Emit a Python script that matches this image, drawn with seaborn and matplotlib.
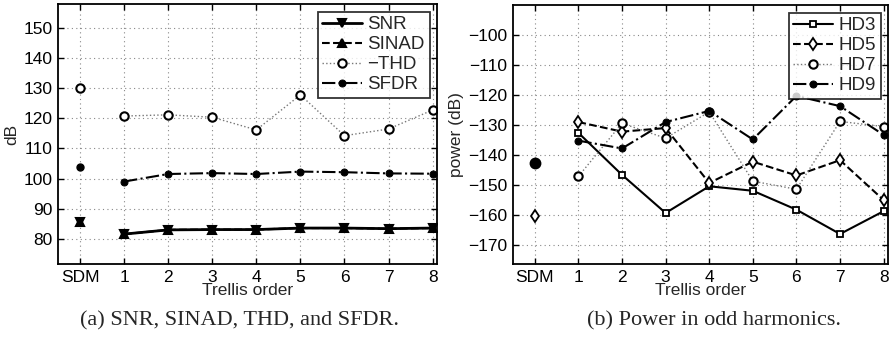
import numpy as np
import pandas as pd
import matplotlib
matplotlib.use("Agg")
import matplotlib.pyplot as plt
import seaborn as sns

# x positions: 0 = SDM, 1..8 = trellis order
x_labels = ["SDM", "1", "2", "3", "4", "5", "6", "7", "8"]
orders = [1, 2, 3, 4, 5, 6, 7, 8]

# (a) values in dB
snr_sdm, sinad_sdm, thd_sdm, sfdr_sdm = 85.7, 85.7, 130.0, 103.7
snr = [81.6, 83.0, 83.1, 83.1, 83.6, 83.6, 83.4, 83.6]
sinad = [81.6, 83.0, 83.1, 83.1, 83.6, 83.6, 83.4, 83.6]
thd = [120.7, 121.1, 120.3, 116.1, 127.7, 114.2, 116.4, 122.7]
sfdr = [99.0, 101.5, 101.8, 101.5, 102.3, 102.1, 101.7, 101.6]

# (b) power in odd harmonics, dB
hd5_sdm, hd7_sdm, hd9_sdm = -160.2, -142.5, -142.5
hd3 = [-132.6, -146.6, -159.3, -150.4, -151.9, -158.2, -166.3, -158.7]
hd5 = [-129.0, -132.2, -131.0, -149.3, -142.2, -146.8, -141.7, -155.0]
hd7 = [-147.1, -129.4, -134.4, -125.6, -148.7, -151.4, -128.8, -130.5]
hd9 = [-135.2, -137.8, -129.0, -125.3, -134.8, -120.3, -123.7, -133.3]

sns.set_theme(style="white")
plt.rcParams['font.family'] = ['Liberation Sans', 'DejaVu Sans']
plt.rcParams['axes.unicode_minus'] = True

fig = plt.figure(figsize=(8.91, 3.40), dpi=100)
W, H = 891.0, 340.0
ax1 = fig.add_axes([58 / W, (H - 264) / H, (437 - 58) / W, 260 / H])
ax2 = fig.add_axes([513 / W, (H - 264) / H, (888 - 513) / W, 259 / H])

mk = dict(color="black", markeredgecolor="black", markeredgewidth=1.5, markersize=6)
FS = 12.5


def style_axes(ax, yticks, ylim, ylabel):
    ax.set_xlim(-0.5, 8.1)
    ax.set_ylim(*ylim)
    ax.set_xticks(range(9))
    ax.set_xticklabels(x_labels)
    ax.set_yticks(yticks)
    ax.grid(True, color="#888888", linestyle=(0, (1, 3)), linewidth=0.8)
    ax.tick_params(direction="in", length=4, width=1, labelsize=FS, colors="black",
                   top=True, right=True, bottom=True, left=True, pad=4)
    for s in ax.spines.values():
        s.set_color("black")
        s.set_linewidth(1.3)
    ax.set_xlabel("Trellis order", fontsize=FS, labelpad=-1)
    ax.set_ylabel(ylabel, fontsize=FS, labelpad=3)


#####################################
# panel (a)
#####################################
sns.lineplot(x=orders, y=snr, ax=ax1, linestyle="-", linewidth=2, marker="v", label="SNR", **mk)
sns.lineplot(x=orders, y=sinad, ax=ax1, linestyle="--", linewidth=1.5, marker="^", label="SINAD", **mk)
sns.lineplot(x=orders, y=thd, ax=ax1, linestyle=":", linewidth=1, marker="o", markerfacecolor="white",
             label="\u2212THD", color="#777777", markeredgecolor="black", markeredgewidth=1.5, markersize=6)
sns.lineplot(x=orders, y=sfdr, ax=ax1, linestyle="-.", linewidth=1.5, marker="o", label="SFDR",
             color="black", markeredgecolor="black", markersize=5)
ax1.plot([0], [snr_sdm], marker="v", linestyle="none", **mk)
ax1.plot([0], [sinad_sdm], marker="^", linestyle="none", **mk)
ax1.plot([0], [thd_sdm], marker="o", linestyle="none", markerfacecolor="white",
         markeredgecolor="black", markeredgewidth=1.5, markersize=6)
ax1.plot([0], [sfdr_sdm], marker="o", linestyle="none", color="black", markersize=5)
style_axes(ax1, range(80, 151, 10), (71.7, 157.8), "dB")

#####################################
# panel (b)
#####################################
sns.lineplot(x=orders, y=hd3, ax=ax2, linestyle="-", linewidth=1.5, marker="s", markerfacecolor="white",
             label="HD3", color="black", markeredgecolor="black", markeredgewidth=1.3, markersize=5)
sns.lineplot(x=orders, y=hd5, ax=ax2, linestyle="--", linewidth=1.5, marker="d", markerfacecolor="white",
             label="HD5", color="black", markeredgecolor="black", markeredgewidth=1.3, markersize=6)
sns.lineplot(x=orders, y=hd7, ax=ax2, linestyle=":", linewidth=1, marker="o", markerfacecolor="white",
             label="HD7", color="#777777", markeredgecolor="black", markeredgewidth=1.5, markersize=6)
sns.lineplot(x=orders, y=hd9, ax=ax2, linestyle="-.", linewidth=1.5, marker="o", label="HD9",
             color="black", markeredgecolor="black", markersize=5)
ax2.plot([0], [hd5_sdm], marker="d", linestyle="none", markerfacecolor="white",
         markeredgecolor="black", markeredgewidth=1.3, markersize=6)
ax2.plot([0], [hd7_sdm], marker="o", linestyle="none", color="black",
         markeredgecolor="black", markeredgewidth=1.5, markersize=7)
ax2.plot([0], [hd9_sdm], marker="o", linestyle="none", color="black", markersize=5)
style_axes(ax2, range(-170, -99, 10), (-176.3, -90.0), "power (dB)")

for ax in (ax1, ax2):
    leg = ax.legend(loc="upper right", fontsize=13.5, frameon=True, fancybox=False,
                    handlelength=2.1, handletextpad=0.3, borderpad=0.25, labelspacing=0.15,
                    borderaxespad=0.4)
    leg.get_frame().set_edgecolor("black")
    leg.get_frame().set_linewidth(1.3)

fig.text(240 / W, 1 - 321 / H, "(a) SNR, SINAD, THD, and SFDR.", ha="center", va="center",
         fontsize=16, family=["Liberation Serif", "DejaVu Serif"])
fig.text(714 / W, 1 - 321 / H, "(b) Power in odd harmonics.", ha="center", va="center",
         fontsize=16, family=["Liberation Serif", "DejaVu Serif"])

fig.savefig("out.png", dpi=100)
